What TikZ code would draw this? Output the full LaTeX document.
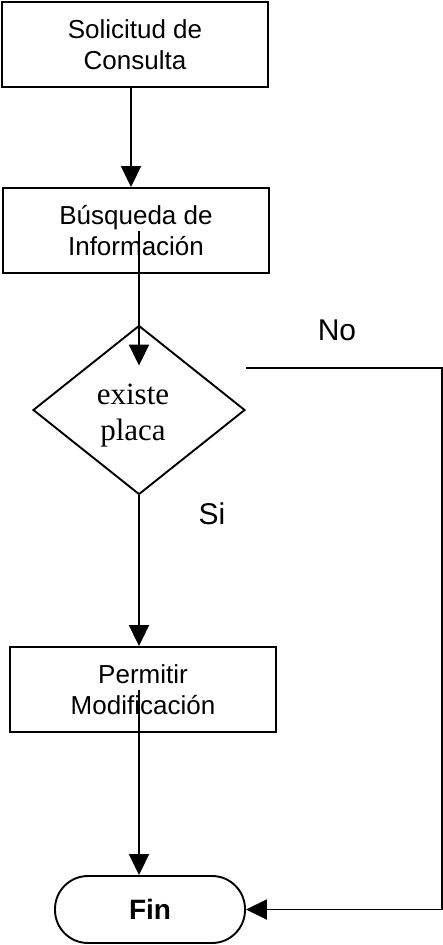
\documentclass[tikz,border=0pt]{standalone}
\usepackage{fontspec}
\newfontfamily\arialfont{Liberation Sans}
\newfontfamily\romanfont{Liberation Serif}
\usetikzlibrary{positioning, arrows.meta, shapes.geometric}

\tikzset{
  caja/.style={draw, minimum width=266pt, minimum height=85pt, inner sep=0pt, align=center,
    font=\arialfont\fontsize{26}{31}\selectfont},
  decision/.style={draw, diamond, minimum width=212pt, minimum height=169pt, inner sep=0pt},
  textodec/.style={align=center, font=\romanfont\fontsize{31}{36}\selectfont},
  terminal/.style={draw, rounded corners=33pt, minimum width=190pt, minimum height=67pt, inner sep=0pt,
    font=\arialfont\bfseries\fontsize{28}{32}\selectfont},
  etiq/.style={font=\arialfont\fontsize{30}{34}\selectfont}
}

\begin{document}
\begin{tikzpicture}[x=1pt, y=1pt, on grid, line width=1.9pt, >={Triangle[length=21pt, width=20pt]}]
		\useasboundingbox (0,0) rectangle (443,-945);
		\node[caja] (sol) at (135,-44.5) {Solicitud de\\Consulta};
		\node[caja] (busq) [below=186pt of sol, xshift=1pt] {Búsqueda de\\Información};
		\node[decision] (cond) [below=179.5pt of busq, xshift=3pt] {};
		\node[textodec] (condtxt) [below=6pt of cond, xshift=-6pt] {existe\\placa};
		\node[caja] (perm) [below=279.5pt of cond, xshift=4pt] {Permitir\\Modificación};
		\node[terminal] (fin) [below=220pt of perm, xshift=7pt] {Fin};
		
		\node[etiq] (no) at (337,-330) {No};
		\node[etiq] (si) at (212,-514) {Si};
		\coordinate (esq) at (442,-368);
		
		\draw[->] ([xshift=-4pt]sol.south) -- ([xshift=-4pt]sol.south |- busq.north);
		\draw[->] (busq.center -| cond.north) -- ([yshift=-41pt]cond.north);
		\draw[->] (cond.south) -- (cond.south |- perm.north);
		\draw[->] (perm.center -| cond.south) -- (cond.south |- fin.north);
		\draw[->] ([yshift=42pt]cond.east) -- (esq) |- (fin.east);
	\end{tikzpicture}
\end{document}
